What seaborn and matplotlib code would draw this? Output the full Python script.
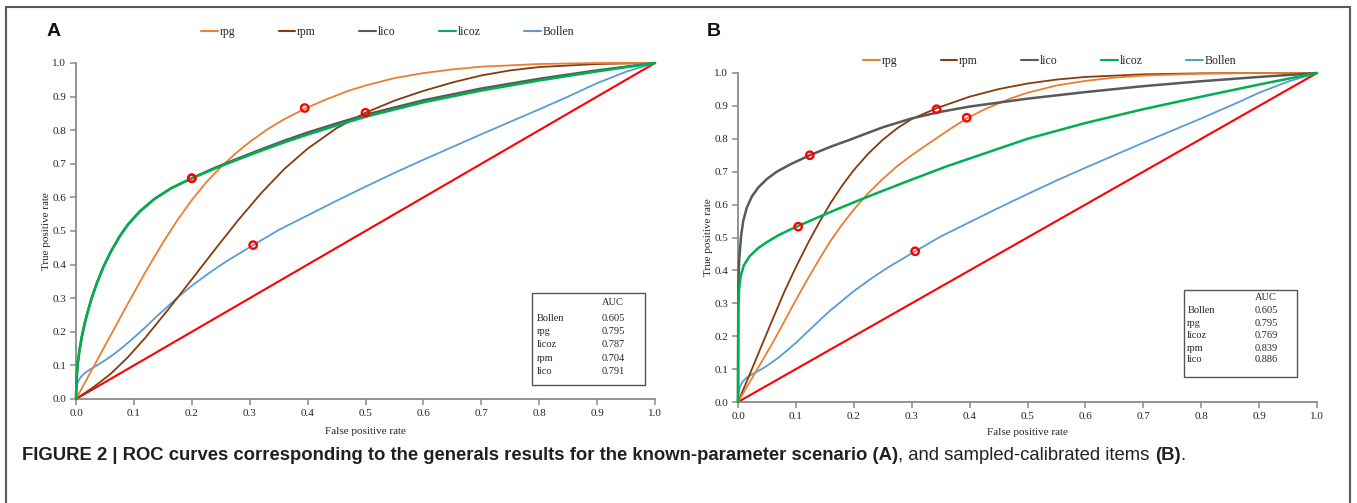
import numpy as np
import pandas as pd
import matplotlib
matplotlib.use("Agg")
import matplotlib.pyplot as plt
import seaborn as sns
from matplotlib.patches import Rectangle
from matplotlib.lines import Line2D

sns.set_theme(style="white")
plt.rcParams["font.family"] = ["Liberation Serif", "DejaVu Serif"]

# ---------------- data ----------------
series_names = ["rpg", "rpm", "lico", "licoz", "Bollen"]
series_colors = ["#ED7D31", "#843C0C", "#595959", "#00B050", "#5B9BD5"]
ticks = [0.0, 0.1, 0.2, 0.3, 0.4, 0.5, 0.6, 0.7, 0.8, 0.9, 1.0]
tick_labels = ["0.0", "0.1", "0.2", "0.3", "0.4", "0.5", "0.6", "0.7", "0.8", "0.9", "1.0"]
diag_x = [0.0, 1.0]
diag_y = [0.0, 1.0]

# Panel A (known-parameter scenario)
a_rpg_x = [0, 0.03, 0.06, 0.09, 0.12, 0.15, 0.175, 0.2, 0.225, 0.25, 0.275, 0.3, 0.33, 0.36, 0.395, 0.43, 0.47, 0.5, 0.55, 0.6, 0.65, 0.7, 0.8, 0.9, 1.0]
a_rpg_y = [0, 0.095, 0.19, 0.285, 0.378, 0.465, 0.532, 0.592, 0.645, 0.69, 0.73, 0.765, 0.802, 0.833, 0.864, 0.89, 0.917, 0.933, 0.955, 0.97, 0.981, 0.989, 0.997, 1.0, 1.0]
a_rpm_x = [0, 0.03, 0.06, 0.09, 0.12, 0.16, 0.2, 0.24, 0.28, 0.32, 0.36, 0.4, 0.45, 0.5, 0.55, 0.6, 0.65, 0.7, 0.75, 0.8, 0.9, 1.0]
a_rpm_y = [0, 0.035, 0.075, 0.125, 0.183, 0.268, 0.356, 0.445, 0.532, 0.613, 0.685, 0.745, 0.806, 0.852, 0.888, 0.917, 0.942, 0.963, 0.978, 0.988, 0.997, 1.0]
a_lico_x = [0, 0.001, 0.003, 0.006, 0.01, 0.015, 0.02, 0.027, 0.035, 0.047, 0.06, 0.075, 0.09, 0.11, 0.136, 0.165, 0.2, 0.24, 0.28, 0.32, 0.36, 0.4, 0.45, 0.5, 0.6, 0.7, 0.8, 0.9, 1.0]
a_lico_y = [0, 0.06, 0.105, 0.145, 0.185, 0.225, 0.258, 0.30, 0.34, 0.392, 0.438, 0.483, 0.52, 0.558, 0.596, 0.628, 0.657, 0.688, 0.716, 0.743, 0.769, 0.793, 0.82, 0.846, 0.889, 0.924, 0.953, 0.978, 1.0]
a_licoz_x = [0, 0.001, 0.003, 0.006, 0.01, 0.015, 0.02, 0.027, 0.035, 0.047, 0.06, 0.075, 0.09, 0.11, 0.136, 0.165, 0.2, 0.24, 0.28, 0.32, 0.36, 0.4, 0.45, 0.5, 0.6, 0.7, 0.8, 0.9, 1.0]
a_licoz_y = [0, 0.06, 0.105, 0.145, 0.185, 0.225, 0.258, 0.30, 0.34, 0.392, 0.438, 0.483, 0.52, 0.558, 0.596, 0.628, 0.657, 0.686, 0.713, 0.739, 0.764, 0.787, 0.814, 0.84, 0.883, 0.918, 0.948, 0.975, 1.0]
a_bollen_x = [0, 0.003, 0.008, 0.015, 0.025, 0.036, 0.05, 0.065, 0.08, 0.095, 0.11, 0.125, 0.14, 0.155, 0.174, 0.2, 0.23, 0.26, 0.306, 0.35, 0.404, 0.45, 0.5, 0.55, 0.6, 0.65, 0.7, 0.75, 0.8, 0.85, 0.9, 0.95, 1.0]
a_bollen_y = [0.03, 0.05, 0.065, 0.077, 0.089, 0.10, 0.115, 0.133, 0.153, 0.175, 0.198, 0.222, 0.247, 0.27, 0.30, 0.337, 0.375, 0.41, 0.458, 0.503, 0.55, 0.59, 0.632, 0.673, 0.712, 0.75, 0.788, 0.825, 0.862, 0.90, 0.94, 0.974, 1.0]
a_mark_x = [0.395, 0.5, 0.2, 0.2, 0.306]
a_mark_y = [0.866, 0.852, 0.657, 0.657, 0.458]
a_auc = ["0.605", "0.795", "0.787", "0.704", "0.791"]

# Panel B (sampled-calibrated items)
b_rpg_x = [0, 0.02, 0.04, 0.06, 0.08, 0.1, 0.12, 0.14, 0.16, 0.18, 0.2, 0.225, 0.25, 0.275, 0.3, 0.337, 0.37, 0.395, 0.43, 0.47, 0.5, 0.55, 0.6, 0.65, 0.7, 0.8, 0.9, 1.0]
b_rpg_y = [0, 0.06, 0.12, 0.18, 0.245, 0.31, 0.373, 0.433, 0.49, 0.54, 0.585, 0.635, 0.678, 0.717, 0.75, 0.795, 0.834, 0.862, 0.893, 0.922, 0.94, 0.962, 0.976, 0.986, 0.992, 0.998, 1.0, 1.0]
b_rpm_x = [0, 0.02, 0.04, 0.06, 0.08, 0.1, 0.12, 0.14, 0.16, 0.18, 0.2, 0.225, 0.25, 0.275, 0.3, 0.343, 0.4, 0.45, 0.5, 0.55, 0.6, 0.7, 0.8, 0.9, 1.0]
b_rpm_y = [0, 0.083, 0.168, 0.252, 0.335, 0.41, 0.48, 0.545, 0.605, 0.658, 0.705, 0.755, 0.797, 0.832, 0.86, 0.893, 0.928, 0.951, 0.968, 0.98, 0.988, 0.996, 0.999, 1.0, 1.0]
b_lico_x = [0, 0.0005, 0.002, 0.005, 0.009, 0.015, 0.024, 0.035, 0.05, 0.067, 0.09, 0.124, 0.16, 0.193, 0.25, 0.3, 0.35, 0.4, 0.5, 0.6, 0.7, 0.8, 0.9, 1.0]
b_lico_y = [0, 0.35, 0.43, 0.50, 0.55, 0.59, 0.625, 0.652, 0.678, 0.70, 0.722, 0.75, 0.776, 0.797, 0.835, 0.862, 0.882, 0.898, 0.922, 0.942, 0.96, 0.975, 0.988, 1.0]
b_licoz_x = [0, 0.0005, 0.002, 0.005, 0.01, 0.02, 0.035, 0.05, 0.07, 0.09, 0.104, 0.13, 0.155, 0.2, 0.24, 0.3, 0.36, 0.43, 0.5, 0.6, 0.7, 0.8, 0.9, 1.0]
b_licoz_y = [0, 0.28, 0.345, 0.385, 0.415, 0.443, 0.468, 0.486, 0.507, 0.524, 0.535, 0.555, 0.574, 0.607, 0.635, 0.676, 0.716, 0.758, 0.80, 0.848, 0.89, 0.928, 0.965, 1.0]
b_bollen_x = [0, 0.003, 0.008, 0.015, 0.025, 0.041, 0.055, 0.07, 0.085, 0.1, 0.115, 0.13, 0.145, 0.16, 0.178, 0.2, 0.23, 0.26, 0.306, 0.35, 0.404, 0.45, 0.5, 0.55, 0.6, 0.65, 0.7, 0.75, 0.8, 0.85, 0.9, 0.95, 1.0]
b_bollen_y = [0.02, 0.045, 0.062, 0.074, 0.085, 0.10, 0.116, 0.135, 0.157, 0.18, 0.205, 0.23, 0.255, 0.279, 0.305, 0.337, 0.375, 0.41, 0.458, 0.503, 0.55, 0.59, 0.632, 0.673, 0.712, 0.75, 0.788, 0.825, 0.862, 0.90, 0.94, 0.974, 1.0]
b_mark_x = [0.395, 0.343, 0.124, 0.104, 0.306]
b_mark_y = [0.864, 0.89, 0.75, 0.533, 0.458]
b_auc = ["0.605", "0.795", "0.769", "0.839", "0.886"]

auc_rows = ["Bollen", "rpg", "licoz", "rpm", "lico"]

W, H = 1357, 503
fig = plt.figure(figsize=(W / 100, H / 100), dpi=100)
fig.patch.set_facecolor("white")

ax_a = fig.add_axes([76 / W, 1 - 399 / H, 579 / W, 336 / H])
ax_b = fig.add_axes([738 / W, 1 - 402 / H, 579 / W, 329 / H])

TXT = "#262626"
SP = "#8a8a8a"


def draw_panel(ax, curves, mark_x, mark_y, auc_vals, leg_x, leg_y, box, rows_y, xname, xval, xlabpad):
    sns.lineplot(x=diag_x, y=diag_y, ax=ax, color="#FF0000", lw=1.5,
                 estimator=None, sort=False, clip_on=False, zorder=2)
    order = ["Bollen", "rpm", "rpg", "lico", "licoz"]
    for name in order:
        xs, ys = curves[name]
        c = series_colors[series_names.index(name)]
        lw = 1.8 if name in ("licoz", "lico") else 1.3
        sns.lineplot(x=xs, y=ys, ax=ax, color=c, lw=lw, estimator=None,
                     sort=False, clip_on=False, zorder=3)
    sns.scatterplot(x=mark_x, y=mark_y, ax=ax, s=28, facecolors="none",
                    edgecolor="#FF0000", linewidth=1.7, zorder=6, clip_on=False)
    ax.set_xlim(0, 1)
    ax.set_ylim(0, 1)
    ax.set_xticks(ticks)
    ax.set_xticklabels(tick_labels)
    ax.set_yticks(ticks)
    ax.set_yticklabels(tick_labels)
    for s in ["top", "right"]:
        ax.spines[s].set_visible(False)
    for s in ["left", "bottom"]:
        ax.spines[s].set_color(SP)
        ax.spines[s].set_linewidth(1.3)
    ax.tick_params(axis="both", direction="out", length=4, width=1.1, color=SP,
                   labelsize=8, labelcolor=TXT, pad=3)
    ax.tick_params(axis="x", bottom=True)
    ax.tick_params(axis="y", left=True)
    ax.set_xlabel("False positive rate", fontsize=8, color=TXT, labelpad=xlabpad)
    ax.set_ylabel("True positive rate", fontsize=8, color=TXT, labelpad=1)
    ax.grid(False)
    ax.set_facecolor("white")
    handles = [Line2D([0], [0], color=c, lw=1.5) for c in series_colors]
    leg = ax.legend(handles, series_names, loc="center", bbox_to_anchor=(leg_x, leg_y),
                    ncol=5, frameon=False, fontsize=8.5, handlelength=1.4,
                    handletextpad=0.15, columnspacing=3.7, borderaxespad=0)
    for t in leg.get_texts():
        t.set_color(TXT)
    x0, x1, y0, y1 = box
    ax.add_patch(Rectangle((x0, y0), x1 - x0, y1 - y0, transform=ax.transAxes,
                           fill=True, fc="white", ec="#555555", lw=1.0, zorder=7,
                           clip_on=False))
    ax.text(xval, rows_y[0], "AUC", transform=ax.transAxes, fontsize=7.5,
            va="center", ha="left", color=TXT, zorder=8)
    for i, (nm, v) in enumerate(zip(auc_rows, auc_vals)):
        ax.text(xname, rows_y[i + 1], nm, transform=ax.transAxes, fontsize=7.5,
                va="center", ha="left", color=TXT, zorder=8)
        ax.text(xval, rows_y[i + 1], v, transform=ax.transAxes, fontsize=7.5,
                va="center", ha="left", color=TXT, zorder=8)


curves_a = {"rpg": (a_rpg_x, a_rpg_y), "rpm": (a_rpm_x, a_rpm_y),
            "lico": (a_lico_x, a_lico_y), "licoz": (a_licoz_x, a_licoz_y),
            "Bollen": (a_bollen_x, a_bollen_y)}
curves_b = {"rpg": (b_rpg_x, b_rpg_y), "rpm": (b_rpm_x, b_rpm_y),
            "lico": (b_lico_x, b_lico_y), "licoz": (b_licoz_x, b_licoz_y),
            "Bollen": (b_bollen_x, b_bollen_y)}

draw_panel(ax_a, curves_a, a_mark_x, a_mark_y, a_auc, 0.538, 1.092,
           (0.788, 0.983, 0.042, 0.315),
           [0.286, 0.241, 0.202, 0.161, 0.122, 0.083], 0.796, 0.908, 7)
draw_panel(ax_b, curves_b, b_mark_x, b_mark_y, b_auc, 0.538, 1.036,
           (0.770, 0.966, 0.076, 0.340),
           [0.319, 0.277, 0.240, 0.201, 0.164, 0.128], 0.776, 0.893, 5)

# panel letters
fig.text(47 / W, 1 - 32 / H, "A", fontsize=14, fontweight="bold",
         family="Liberation Sans", color="#111111", va="center", ha="left")
fig.text(707 / W, 1 - 32 / H, "B", fontsize=14, fontweight="bold",
         family="Liberation Sans", color="#111111", va="center", ha="left")

# frame
fig.add_artist(Rectangle((6 / W, -0.05), (1350 - 6) / W, 1.05 - 7 / H,
                         transform=fig.transFigure, fill=False, ec="#5a5a5a", lw=1.5))

# caption (mixed bold / regular)
parts = [("FIGURE 2 | ROC curves corresponding to the generals results for the known-parameter scenario (A)", "bold"),
         (", and sampled-calibrated items ", "normal"),
         ("(B)", "bold"),
         (".", "normal")]
fig.canvas.draw()
renderer = fig.canvas.get_renderer()
xpos = 22
for txt, wt in parts:
    t = fig.text(xpos / W, 1 - 456 / H, txt, fontsize=13.3, fontweight=wt,
                 family="Liberation Sans", color="#231F20", va="center", ha="left")
    bb = t.get_window_extent(renderer=renderer)
    xpos += bb.width

fig.savefig("out.png", dpi=100, facecolor="white")
